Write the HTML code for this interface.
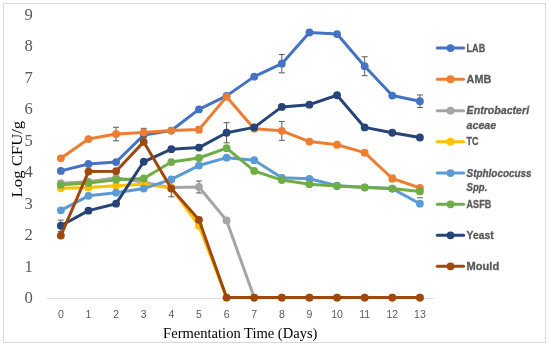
<!DOCTYPE html>
<html><head><meta charset="utf-8"><style>
html,body{margin:0;padding:0;background:#fff;}
body{width:550px;height:347px;overflow:hidden;}
svg{display:block;will-change:transform;filter:blur(0.3px);}
</style></head><body>
<svg width="550" height="347" viewBox="0 0 550 347">
<rect x="0" y="0" width="550" height="347" fill="#fff"/>
<rect x="3.5" y="3.5" width="542" height="339" fill="none" stroke="#D9D9D9" stroke-width="1"/>
<line x1="47" y1="298.5" x2="433.5" y2="298.5" stroke="#D9D9D9" stroke-width="1"/>
<g font-family="Liberation Serif" font-size="16.6" fill="#595959" text-anchor="end">
<text x="32.7" y="303.35">0</text>
<text x="32.7" y="271.82">1</text>
<text x="32.7" y="240.29">2</text>
<text x="32.7" y="208.76">3</text>
<text x="32.7" y="177.23">4</text>
<text x="32.7" y="145.70">5</text>
<text x="32.7" y="114.17">6</text>
<text x="32.7" y="82.64">7</text>
<text x="32.7" y="51.11">8</text>
<text x="32.7" y="19.58">9</text>
</g>
<g font-family="Liberation Sans" font-size="10.5" fill="#595959" text-anchor="middle">
<text x="60.85" y="317.6">0</text>
<text x="88.47" y="317.6">1</text>
<text x="116.09" y="317.6">2</text>
<text x="143.71" y="317.6">3</text>
<text x="171.33" y="317.6">4</text>
<text x="198.95" y="317.6">5</text>
<text x="226.57" y="317.6">6</text>
<text x="254.19" y="317.6">7</text>
<text x="281.81" y="317.6">8</text>
<text x="309.43" y="317.6">9</text>
<text x="337.05" y="317.6">10</text>
<text x="364.67" y="317.6">11</text>
<text x="392.29" y="317.6">12</text>
<text x="419.91" y="317.6">13</text>
</g>
<text x="240.3" y="337.5" font-family="Liberation Serif" font-size="14.55" fill="#000" text-anchor="middle">Fermentation Time (Days)</text>
<text transform="translate(21.5,159.1) rotate(-90) scale(1.17,1)" font-family="Liberation Serif" font-size="14.3" fill="#000" text-anchor="middle">Log CFU/g</text>
<path d="M281.81 54.57V72.85M278.81 54.57H284.81M278.81 72.85H284.81" stroke="#595959" stroke-width="1" fill="none"/>
<path d="M364.67 56.77V75.69M361.67 56.77H367.67M361.67 75.69H367.67" stroke="#595959" stroke-width="1" fill="none"/>
<path d="M419.91 94.93V107.54M416.91 94.93H422.91M416.91 107.54H422.91" stroke="#595959" stroke-width="1" fill="none"/>
<polyline points="60.85,170.91 88.47,163.98 116.09,162.08 143.71,134.97 171.33,130.55 198.95,109.43 226.57,95.87 254.19,76.64 281.81,63.71 309.43,32.50 337.05,34.07 364.67,66.23 392.29,95.56 419.91,101.23" fill="none" stroke="#4472C4" stroke-width="3.0" stroke-linejoin="round" stroke-linecap="round"/>
<circle cx="60.85" cy="170.91" r="3.9" fill="#4472C4"/>
<circle cx="88.47" cy="163.98" r="3.9" fill="#4472C4"/>
<circle cx="116.09" cy="162.08" r="3.9" fill="#4472C4"/>
<circle cx="143.71" cy="134.97" r="3.9" fill="#4472C4"/>
<circle cx="171.33" cy="130.55" r="3.9" fill="#4472C4"/>
<circle cx="198.95" cy="109.43" r="3.9" fill="#4472C4"/>
<circle cx="226.57" cy="95.87" r="3.9" fill="#4472C4"/>
<circle cx="254.19" cy="76.64" r="3.9" fill="#4472C4"/>
<circle cx="281.81" cy="63.71" r="3.9" fill="#4472C4"/>
<circle cx="309.43" cy="32.50" r="3.9" fill="#4472C4"/>
<circle cx="337.05" cy="34.07" r="3.9" fill="#4472C4"/>
<circle cx="364.67" cy="66.23" r="3.9" fill="#4472C4"/>
<circle cx="392.29" cy="95.56" r="3.9" fill="#4472C4"/>
<circle cx="419.91" cy="101.23" r="3.9" fill="#4472C4"/>
<path d="M116.09 127.24V140.80M113.09 127.24H119.09M113.09 140.80H119.09" stroke="#595959" stroke-width="1" fill="none"/>
<path d="M143.71 128.35V136.54M140.71 128.35H146.71M140.71 136.54H146.71" stroke="#595959" stroke-width="1" fill="none"/>
<path d="M198.95 126.46V132.76M195.95 126.46H201.95M195.95 132.76H201.95" stroke="#595959" stroke-width="1" fill="none"/>
<path d="M392.29 175.33V181.63M389.29 175.33H395.29M389.29 181.63H395.29" stroke="#595959" stroke-width="1" fill="none"/>
<path d="M281.81 121.41V140.33M278.81 121.41H284.81M278.81 140.33H284.81" stroke="#595959" stroke-width="1" fill="none"/>
<polyline points="60.85,158.30 88.47,139.07 116.09,134.02 143.71,132.45 171.33,130.55 198.95,129.61 226.57,96.82 254.19,128.66 281.81,130.87 309.43,141.59 337.05,144.74 364.67,152.63 392.29,178.48 419.91,187.94" fill="none" stroke="#ED7D31" stroke-width="3.0" stroke-linejoin="round" stroke-linecap="round"/>
<circle cx="60.85" cy="158.30" r="3.9" fill="#ED7D31"/>
<circle cx="88.47" cy="139.07" r="3.9" fill="#ED7D31"/>
<circle cx="116.09" cy="134.02" r="3.9" fill="#ED7D31"/>
<circle cx="143.71" cy="132.45" r="3.9" fill="#ED7D31"/>
<circle cx="171.33" cy="130.55" r="3.9" fill="#ED7D31"/>
<circle cx="198.95" cy="129.61" r="3.9" fill="#ED7D31"/>
<circle cx="226.57" cy="96.82" r="3.9" fill="#ED7D31"/>
<circle cx="254.19" cy="128.66" r="3.9" fill="#ED7D31"/>
<circle cx="281.81" cy="130.87" r="3.9" fill="#ED7D31"/>
<circle cx="309.43" cy="141.59" r="3.9" fill="#ED7D31"/>
<circle cx="337.05" cy="144.74" r="3.9" fill="#ED7D31"/>
<circle cx="364.67" cy="152.63" r="3.9" fill="#ED7D31"/>
<circle cx="392.29" cy="178.48" r="3.9" fill="#ED7D31"/>
<circle cx="419.91" cy="187.94" r="3.9" fill="#ED7D31"/>
<path d="M171.33 178.48V196.77M168.33 178.48H174.33M168.33 196.77H174.33" stroke="#595959" stroke-width="1" fill="none"/>
<path d="M198.95 181.00V192.98M195.95 181.00H201.95M195.95 192.98H201.95" stroke="#595959" stroke-width="1" fill="none"/>
<polyline points="60.85,183.21 88.47,181.63 116.09,177.85 143.71,182.26 171.33,187.62 198.95,186.99 226.57,220.41 254.19,297.60 281.81,297.60 309.43,297.60 337.05,297.60 364.67,297.60 392.29,297.60 419.91,297.60" fill="none" stroke="#A5A5A5" stroke-width="3.0" stroke-linejoin="round" stroke-linecap="round"/>
<circle cx="60.85" cy="183.21" r="3.9" fill="#A5A5A5"/>
<circle cx="88.47" cy="181.63" r="3.9" fill="#A5A5A5"/>
<circle cx="116.09" cy="177.85" r="3.9" fill="#A5A5A5"/>
<circle cx="143.71" cy="182.26" r="3.9" fill="#A5A5A5"/>
<circle cx="171.33" cy="187.62" r="3.9" fill="#A5A5A5"/>
<circle cx="198.95" cy="186.99" r="3.9" fill="#A5A5A5"/>
<circle cx="226.57" cy="220.41" r="3.9" fill="#A5A5A5"/>
<circle cx="254.19" cy="297.60" r="3.9" fill="#A5A5A5"/>
<circle cx="281.81" cy="297.60" r="3.9" fill="#A5A5A5"/>
<circle cx="309.43" cy="297.60" r="3.9" fill="#A5A5A5"/>
<circle cx="337.05" cy="297.60" r="3.9" fill="#A5A5A5"/>
<circle cx="364.67" cy="297.60" r="3.9" fill="#A5A5A5"/>
<circle cx="392.29" cy="297.60" r="3.9" fill="#A5A5A5"/>
<circle cx="419.91" cy="297.60" r="3.9" fill="#A5A5A5"/>
<polyline points="60.85,188.25 88.47,187.62 116.09,185.73 143.71,184.16 171.33,187.94 198.95,225.77 226.57,297.60 254.19,297.60 281.81,297.60 309.43,297.60 337.05,297.60 364.67,297.60 392.29,297.60 419.91,297.60" fill="none" stroke="#FFC000" stroke-width="3.0" stroke-linejoin="round" stroke-linecap="round"/>
<circle cx="60.85" cy="188.25" r="3.9" fill="#FFC000"/>
<circle cx="88.47" cy="187.62" r="3.9" fill="#FFC000"/>
<circle cx="116.09" cy="185.73" r="3.9" fill="#FFC000"/>
<circle cx="143.71" cy="184.16" r="3.9" fill="#FFC000"/>
<circle cx="171.33" cy="187.94" r="3.9" fill="#FFC000"/>
<circle cx="198.95" cy="225.77" r="3.9" fill="#FFC000"/>
<circle cx="226.57" cy="297.60" r="3.9" fill="#FFC000"/>
<circle cx="254.19" cy="297.60" r="3.9" fill="#FFC000"/>
<circle cx="281.81" cy="297.60" r="3.9" fill="#FFC000"/>
<circle cx="309.43" cy="297.60" r="3.9" fill="#FFC000"/>
<circle cx="337.05" cy="297.60" r="3.9" fill="#FFC000"/>
<circle cx="364.67" cy="297.60" r="3.9" fill="#FFC000"/>
<circle cx="392.29" cy="297.60" r="3.9" fill="#FFC000"/>
<circle cx="419.91" cy="297.60" r="3.9" fill="#FFC000"/>
<polyline points="60.85,210.32 88.47,195.82 116.09,192.67 143.71,188.57 171.33,179.43 198.95,165.55 226.57,157.67 254.19,160.19 281.81,177.85 309.43,178.79 337.05,185.73 364.67,187.31 392.29,188.57 419.91,203.70" fill="none" stroke="#5B9BD5" stroke-width="3.0" stroke-linejoin="round" stroke-linecap="round"/>
<circle cx="60.85" cy="210.32" r="3.9" fill="#5B9BD5"/>
<circle cx="88.47" cy="195.82" r="3.9" fill="#5B9BD5"/>
<circle cx="116.09" cy="192.67" r="3.9" fill="#5B9BD5"/>
<circle cx="143.71" cy="188.57" r="3.9" fill="#5B9BD5"/>
<circle cx="171.33" cy="179.43" r="3.9" fill="#5B9BD5"/>
<circle cx="198.95" cy="165.55" r="3.9" fill="#5B9BD5"/>
<circle cx="226.57" cy="157.67" r="3.9" fill="#5B9BD5"/>
<circle cx="254.19" cy="160.19" r="3.9" fill="#5B9BD5"/>
<circle cx="281.81" cy="177.85" r="3.9" fill="#5B9BD5"/>
<circle cx="309.43" cy="178.79" r="3.9" fill="#5B9BD5"/>
<circle cx="337.05" cy="185.73" r="3.9" fill="#5B9BD5"/>
<circle cx="364.67" cy="187.31" r="3.9" fill="#5B9BD5"/>
<circle cx="392.29" cy="188.57" r="3.9" fill="#5B9BD5"/>
<circle cx="419.91" cy="203.70" r="3.9" fill="#5B9BD5"/>
<path d="M416.91 197.8H422.91" stroke="#595959" stroke-width="1"/>
<polyline points="60.85,184.79 88.47,182.89 116.09,179.74 143.71,178.48 171.33,162.08 198.95,157.99 226.57,148.21 254.19,170.91 281.81,180.06 309.43,184.16 337.05,186.05 364.67,187.62 392.29,188.57 419.91,191.41" fill="none" stroke="#70AD47" stroke-width="3.0" stroke-linejoin="round" stroke-linecap="round"/>
<circle cx="60.85" cy="184.79" r="3.9" fill="#70AD47"/>
<circle cx="88.47" cy="182.89" r="3.9" fill="#70AD47"/>
<circle cx="116.09" cy="179.74" r="3.9" fill="#70AD47"/>
<circle cx="143.71" cy="178.48" r="3.9" fill="#70AD47"/>
<circle cx="171.33" cy="162.08" r="3.9" fill="#70AD47"/>
<circle cx="198.95" cy="157.99" r="3.9" fill="#70AD47"/>
<circle cx="226.57" cy="148.21" r="3.9" fill="#70AD47"/>
<circle cx="254.19" cy="170.91" r="3.9" fill="#70AD47"/>
<circle cx="281.81" cy="180.06" r="3.9" fill="#70AD47"/>
<circle cx="309.43" cy="184.16" r="3.9" fill="#70AD47"/>
<circle cx="337.05" cy="186.05" r="3.9" fill="#70AD47"/>
<circle cx="364.67" cy="187.62" r="3.9" fill="#70AD47"/>
<circle cx="392.29" cy="188.57" r="3.9" fill="#70AD47"/>
<circle cx="419.91" cy="191.41" r="3.9" fill="#70AD47"/>
<path d="M60.85 220.10V231.45M57.85 220.10H63.85M57.85 231.45H63.85" stroke="#595959" stroke-width="1" fill="none"/>
<path d="M226.57 122.67V142.85M223.57 122.67H229.57M223.57 142.85H229.57" stroke="#595959" stroke-width="1" fill="none"/>
<polyline points="60.85,225.77 88.47,210.64 116.09,203.70 143.71,161.77 171.33,149.16 198.95,147.58 226.57,132.76 254.19,127.40 281.81,106.91 309.43,104.70 337.05,95.24 364.67,127.40 392.29,132.76 419.91,137.49" fill="none" stroke="#264478" stroke-width="3.0" stroke-linejoin="round" stroke-linecap="round"/>
<circle cx="60.85" cy="225.77" r="3.9" fill="#264478"/>
<circle cx="88.47" cy="210.64" r="3.9" fill="#264478"/>
<circle cx="116.09" cy="203.70" r="3.9" fill="#264478"/>
<circle cx="143.71" cy="161.77" r="3.9" fill="#264478"/>
<circle cx="171.33" cy="149.16" r="3.9" fill="#264478"/>
<circle cx="198.95" cy="147.58" r="3.9" fill="#264478"/>
<circle cx="226.57" cy="132.76" r="3.9" fill="#264478"/>
<circle cx="254.19" cy="127.40" r="3.9" fill="#264478"/>
<circle cx="281.81" cy="106.91" r="3.9" fill="#264478"/>
<circle cx="309.43" cy="104.70" r="3.9" fill="#264478"/>
<circle cx="337.05" cy="95.24" r="3.9" fill="#264478"/>
<circle cx="364.67" cy="127.40" r="3.9" fill="#264478"/>
<circle cx="392.29" cy="132.76" r="3.9" fill="#264478"/>
<circle cx="419.91" cy="137.49" r="3.9" fill="#264478"/>
<polyline points="60.85,235.55 88.47,171.54 116.09,171.23 143.71,141.90 171.33,188.57 198.95,219.78 226.57,297.60 254.19,297.60 281.81,297.60 309.43,297.60 337.05,297.60 364.67,297.60 392.29,297.60 419.91,297.60" fill="none" stroke="#9E480E" stroke-width="3.0" stroke-linejoin="round" stroke-linecap="round"/>
<circle cx="60.85" cy="235.55" r="3.9" fill="#9E480E"/>
<circle cx="88.47" cy="171.54" r="3.9" fill="#9E480E"/>
<circle cx="116.09" cy="171.23" r="3.9" fill="#9E480E"/>
<circle cx="143.71" cy="141.90" r="3.9" fill="#9E480E"/>
<circle cx="171.33" cy="188.57" r="3.9" fill="#9E480E"/>
<circle cx="198.95" cy="219.78" r="3.9" fill="#9E480E"/>
<circle cx="226.57" cy="297.60" r="3.9" fill="#9E480E"/>
<circle cx="254.19" cy="297.60" r="3.9" fill="#9E480E"/>
<circle cx="281.81" cy="297.60" r="3.9" fill="#9E480E"/>
<circle cx="309.43" cy="297.60" r="3.9" fill="#9E480E"/>
<circle cx="337.05" cy="297.60" r="3.9" fill="#9E480E"/>
<circle cx="364.67" cy="297.60" r="3.9" fill="#9E480E"/>
<circle cx="392.29" cy="297.60" r="3.9" fill="#9E480E"/>
<circle cx="419.91" cy="297.60" r="3.9" fill="#9E480E"/>
<line x1="437.3" y1="48.1" x2="463.6" y2="48.1" stroke="#4472C4" stroke-width="3.0" stroke-linecap="round"/>
<circle cx="450.5" cy="48.1" r="3.9" fill="#4472C4"/>
<text x="466.6" y="51.60" textLength="18.6" lengthAdjust="spacingAndGlyphs" font-family="Liberation Sans" font-weight="bold" font-size="10.5" fill="#595959" stroke="#595959" stroke-width="0.3">LAB</text>
<line x1="437.3" y1="79.2" x2="463.6" y2="79.2" stroke="#ED7D31" stroke-width="3.0" stroke-linecap="round"/>
<circle cx="450.5" cy="79.2" r="3.9" fill="#ED7D31"/>
<text x="466.6" y="82.70" textLength="24.6" lengthAdjust="spacingAndGlyphs" font-family="Liberation Sans" font-weight="bold" font-size="10.5" fill="#595959" stroke="#595959" stroke-width="0.3">AMB</text>
<line x1="437.3" y1="110.7" x2="463.6" y2="110.7" stroke="#A5A5A5" stroke-width="3.0" stroke-linecap="round"/>
<circle cx="450.5" cy="110.7" r="3.9" fill="#A5A5A5"/>
<text x="466.6" y="114.20" textLength="62.5" lengthAdjust="spacingAndGlyphs" font-family="Liberation Sans" font-weight="bold" font-size="10.5" fill="#595959" stroke="#595959" stroke-width="0.3" font-style="italic">Entrobacteri</text>
<text x="466.6" y="128.80" textLength="29.5" lengthAdjust="spacingAndGlyphs" font-family="Liberation Sans" font-weight="bold" font-size="10.5" fill="#595959" stroke="#595959" stroke-width="0.3" font-style="italic">aceae</text>
<line x1="437.3" y1="141.7" x2="463.6" y2="141.7" stroke="#FFC000" stroke-width="3.0" stroke-linecap="round"/>
<circle cx="450.5" cy="141.7" r="3.9" fill="#FFC000"/>
<text x="466.6" y="145.20" textLength="12.0" lengthAdjust="spacingAndGlyphs" font-family="Liberation Sans" font-weight="bold" font-size="10.5" fill="#595959" stroke="#595959" stroke-width="0.3">TC</text>
<line x1="437.3" y1="173.1" x2="463.6" y2="173.1" stroke="#5B9BD5" stroke-width="3.0" stroke-linecap="round"/>
<circle cx="450.5" cy="173.1" r="3.9" fill="#5B9BD5"/>
<text x="466.6" y="176.60" textLength="65.0" lengthAdjust="spacingAndGlyphs" font-family="Liberation Sans" font-weight="bold" font-size="10.5" fill="#595959" stroke="#595959" stroke-width="0.3" font-style="italic">Stphlococuss</text>
<text x="466.6" y="191.20" textLength="20.8" lengthAdjust="spacingAndGlyphs" font-family="Liberation Sans" font-weight="bold" font-size="10.5" fill="#595959" stroke="#595959" stroke-width="0.3" font-style="italic">Spp.</text>
<line x1="437.3" y1="204.3" x2="463.6" y2="204.3" stroke="#70AD47" stroke-width="3.0" stroke-linecap="round"/>
<circle cx="450.5" cy="204.3" r="3.9" fill="#70AD47"/>
<text x="466.6" y="207.80" textLength="24.6" lengthAdjust="spacingAndGlyphs" font-family="Liberation Sans" font-weight="bold" font-size="10.5" fill="#595959" stroke="#595959" stroke-width="0.3">ASFB</text>
<line x1="437.3" y1="235.3" x2="463.6" y2="235.3" stroke="#264478" stroke-width="3.0" stroke-linecap="round"/>
<circle cx="450.5" cy="235.3" r="3.9" fill="#264478"/>
<text x="466.6" y="238.80" textLength="27.0" lengthAdjust="spacingAndGlyphs" font-family="Liberation Sans" font-weight="bold" font-size="10.5" fill="#595959" stroke="#595959" stroke-width="0.3">Yeast</text>
<line x1="437.3" y1="266.3" x2="463.6" y2="266.3" stroke="#9E480E" stroke-width="3.0" stroke-linecap="round"/>
<circle cx="450.5" cy="266.3" r="3.9" fill="#9E480E"/>
<text x="466.6" y="269.80" textLength="32.6" lengthAdjust="spacingAndGlyphs" font-family="Liberation Sans" font-weight="bold" font-size="10.5" fill="#595959" stroke="#595959" stroke-width="0.3">Mould</text>
</svg>
</body></html>
